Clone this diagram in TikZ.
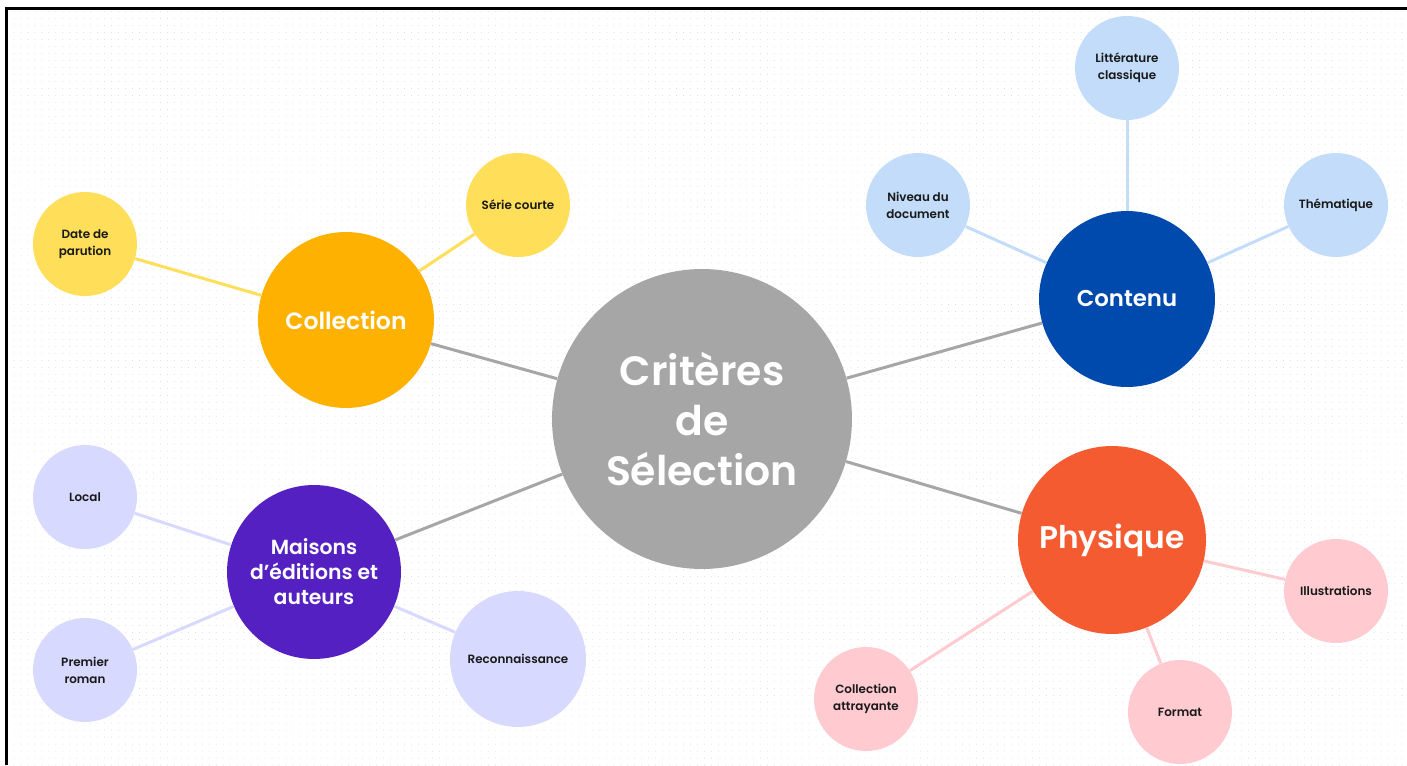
\documentclass[tikz,border=0pt]{standalone}
\usepackage{fontspec}
\setmainfont{Poppins}[UprightFont=* Medium,BoldFont=* SemiBold]
\usetikzlibrary{patterns.meta}
\definecolor{cgray}{HTML}{A6A6A6}
\definecolor{ccoll}{HTML}{FFB100}
\definecolor{cyel}{HTML}{FFDE59}
\definecolor{ccont}{HTML}{004AAD}
\definecolor{cblue}{HTML}{C2DCFA}
\definecolor{cphys}{HTML}{F55B31}
\definecolor{cpink}{HTML}{FFCAD0}
\definecolor{cmais}{HTML}{5420C2}
\definecolor{clil}{HTML}{D8D9FF}
\begin{document}
\begin{tikzpicture}[x=0.02cm,y=-0.02cm,
  bubble/.style={circle,inner sep=0pt,align=center,minimum size=#1*0.4mm},
  leaf/.style={bubble=52,text=black!90,font=\bfseries\fontsize{6.8}{9.6}\selectfont},
  hub/.style={bubble=88,text=white,font=\bfseries\fontsize{13.4}{16}\selectfont},
  link/.style={line width=1.7pt}]
\useasboundingbox (0,0) rectangle (1407,765);
\fill[white] (0,0) rectangle (1407,765);
\fill[pattern={Dots[distance=3.97pt,radius=0.3pt]},pattern color=black!13] (7,9) rectangle (1407,765);
\draw[line width=1.2pt] (6.5,765) |- (1407,8.5);
\node[bubble=150,fill=cgray,text=white,font=\bfseries\fontsize{23.3}{28.3}\selectfont] (crit) at (702,419) {Critères\\de\\Sélection};
\node[hub,fill=ccoll] (coll) at (346,320) {Collection};
\node[hub,fill=ccont,font=\bfseries\fontsize{13}{16}\selectfont] (cont) at (1127,299) {Contenu};
\node[hub,bubble=94,fill=cphys,font=\bfseries\fontsize{17.8}{20}\selectfont] (phys) at (1112,540) {Physique};
\node[hub,bubble=87,fill=cmais,font=\bfseries\fontsize{11.6}{14.2}\selectfont] (mais) at (314,572) {Maisons\\d’éditions et\\auteurs};
\node[leaf,fill=cyel] (date) at (85,244) {Date de\\parution};
\node[leaf,fill=cyel] (serie) at (518,205) {Série courte};
\node[leaf,fill=cblue] (niv) at (918,205) {Niveau du\\document};
\node[leaf,fill=cblue] (litt) at (1127,68) {Littérature\\classique};
\node[leaf,fill=cblue] (them) at (1336,205) {Thématique};
\node[leaf,fill=cpink] (illu) at (1336,591) {Illustrations};
\node[leaf,fill=cpink] (form) at (1180,712) {Format};
\node[leaf,fill=cpink] (attr) at (866,699) {Collection\\attrayante};
\node[leaf,fill=clil] (loc) at (85,497) {Local};
\node[leaf,fill=clil] (prem) at (85,670) {Premier\\roman};
\node[leaf,bubble=68,fill=clil] (reco) at (518,659) {Reconnaissance};
\foreach \a/\b/\c in {crit/coll/cgray,crit/cont/cgray,crit/phys/cgray,crit/mais/cgray,
  coll/date/cyel,coll/serie/cyel,cont/niv/cblue,cont/litt/cblue,cont/them/cblue,
  phys/illu/cpink,phys/form/cpink,phys/attr/cpink,mais/loc/clil,mais/prem/clil,mais/reco/clil}
  \draw[link,\c] (\a) -- (\b);
\end{tikzpicture}
\end{document}
